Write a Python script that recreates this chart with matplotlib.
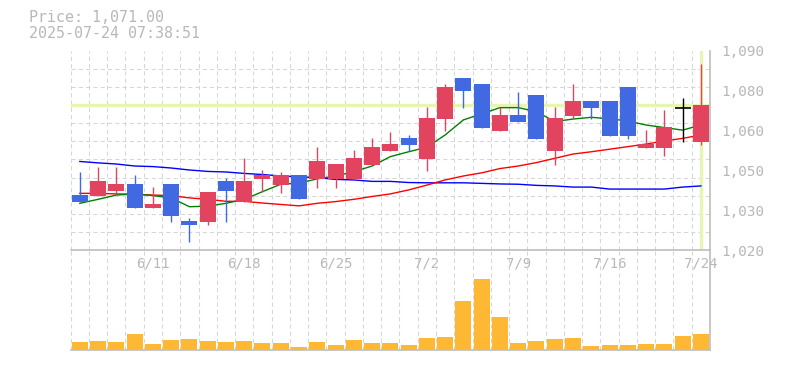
import matplotlib
matplotlib.use("Agg")
import matplotlib.pyplot as plt
import numpy as np

# ---------------- data ----------------
dates = ["6/5", "6/6", "6/9", "6/10", "6/11", "6/12", "6/13", "6/16", "6/17", "6/18",
         "6/19", "6/20", "6/23", "6/24", "6/25", "6/26", "6/27", "6/30", "7/1", "7/2",
         "7/3", "7/4", "7/7", "7/8", "7/9", "7/10", "7/11", "7/14", "7/15", "7/16",
         "7/17", "7/18", "7/22", "7/23", "7/24"]
opens = [1039.3, 1039.1, 1040.8, 1043.2, 1034.9, 1043.2, 1030.2, 1029.9, 1044.2, 1036.9,
         1045.0, 1042.9, 1046.3, 1045.0, 1045.0, 1045.0, 1049.9, 1054.8, 1059.3, 1052.1,
         1066.0, 1080.4, 1078.3, 1061.9, 1067.4, 1074.4, 1054.9, 1067.1, 1072.3, 1072.3,
         1077.3, 1055.9, 1055.9, 1070.0, 1058.0]
highs = [1047.4, 1049.1, 1049.1, 1046.3, 1042.1, 1043.2, 1031.2, 1040.4, 1045.3, 1052.3,
         1048.1, 1047.4, 1046.3, 1056.2, 1050.2, 1055.1, 1059.3, 1061.4, 1060.4, 1070.2,
         1078.3, 1080.4, 1078.3, 1070.2, 1075.5, 1074.4, 1070.2, 1078.3, 1072.3, 1072.3,
         1077.3, 1062.1, 1069.2, 1073.3, 1085.3]
lows = [1036.9, 1039.1, 1040.0, 1034.9, 1034.9, 1029.9, 1022.9, 1028.9, 1029.9, 1036.9,
        1040.4, 1040.0, 1037.9, 1041.9, 1041.9, 1045.0, 1049.9, 1054.8, 1054.8, 1047.9,
        1061.9, 1070.0, 1062.8, 1061.9, 1065.1, 1059.1, 1050.0, 1066.0, 1066.0, 1060.1,
        1059.1, 1055.9, 1053.1, 1058.0, 1056.9]
closes = [1036.9, 1044.2, 1043.2, 1034.9, 1036.2, 1032.0, 1028.9, 1040.4, 1040.8, 1044.2,
          1046.3, 1046.3, 1037.9, 1051.3, 1050.2, 1052.3, 1056.2, 1057.2, 1057.0, 1066.4,
          1077.3, 1075.8, 1062.8, 1067.4, 1065.1, 1059.1, 1066.4, 1072.3, 1070.0, 1060.1,
          1060.1, 1057.2, 1063.2, 1070.0, 1071.0]
ma_short = [1036.4, 1037.8, 1039.3, 1039.7, 1039.1, 1038.3, 1035.2, 1035.4, 1036.4, 1037.8,
            1040.5, 1043.1, 1043.5, 1045.0, 1046.0, 1047.5, 1049.5, 1052.8, 1054.5, 1056.1,
            1060.4, 1065.7, 1067.8, 1070.0, 1070.0, 1068.6, 1065.1, 1066.0, 1066.6, 1066.1,
            1065.3, 1063.9, 1063.0, 1062.1, 1063.9]
ma_mid = [1039.9, 1039.9, 1039.7, 1039.6, 1039.3, 1039.1, 1038.3, 1037.8, 1037.1, 1037.1,
          1036.5, 1036.0, 1035.5, 1036.4, 1037.0, 1037.8, 1038.8, 1039.7, 1041.1, 1042.8,
          1044.6, 1046.0, 1047.1, 1048.6, 1049.5, 1050.7, 1052.2, 1053.7, 1054.5, 1055.4,
          1056.3, 1057.2, 1058.3, 1059.2, 1060.4]
ma_long = [1051.1, 1050.6, 1050.2, 1049.5, 1049.3, 1048.8, 1048.1, 1047.6, 1047.4, 1046.9,
           1046.5, 1046.0, 1045.7, 1045.4, 1044.8, 1044.6, 1044.1, 1044.1, 1043.7, 1043.6,
           1043.6, 1043.6, 1043.4, 1043.2, 1043.1, 1042.7, 1042.5, 1042.1, 1042.1, 1041.4,
           1041.4, 1041.4, 1041.4, 1042.1, 1042.5]
volumes = [8, 9, 8, 16, 6, 10, 11, 9, 8, 9, 7, 7, 3, 8, 5, 10, 7, 7, 5, 12,
           13, 49, 71, 33, 7, 9, 11, 12, 4, 5, 5, 6, 6, 14, 16]
tick_dates = ["6/11", "6/18", "6/25", "7/2", "7/9", "7/16", "7/24"]
price_ticks = [1020, 1034, 1048, 1062, 1076, 1090]
price_tick_labels = ["1,020", "1,030", "1,050", "1,060", "1,080", "1,090"]
last_price = 1071.00
timestamp = "2025-07-24 07:38:51"

# ---------------- style ----------------
UP = "#e2445f"
DOWN = "#4169e1"
VOL = "#ffb833"
HL = "#e6f5b0"
GRID = "#d6d6d6"
SPINE = "#bdbdbd"
TXT = "#b8b8b8"
FONT = "DejaVu Sans Mono"

W, H = 785, 370
fig = plt.figure(figsize=(W / 100, H / 100), dpi=100)

x = np.arange(len(dates))
n = len(dates)
left, right = 70.7 / W, 710 / W
ax = fig.add_axes([left, 1 - 250 / H, right - left, (250 - 50.7) / H])
axv = fig.add_axes([left, 1 - 349.5 / H, right - left, 99.5 / H])
axv.set_facecolor("none")
ax.set_facecolor("none")

for a in (ax, axv):
    a.set_xlim(-0.5, n - 0.5)
    for s in ("top", "left"):
        a.spines[s].set_visible(False)
    a.spines["right"].set_color(SPINE)
    a.spines["bottom"].set_color(SPINE)
    a.spines["right"].set_linewidth(1.2)
    a.spines["bottom"].set_linewidth(1.2)
    a.set_xticks(np.arange(-0.5, n, 1.0), minor=True)
    a.grid(which="minor", axis="x", color=GRID, linestyle=(0, (4, 3)), linewidth=0.75)
    a.tick_params(which="both", length=0)
    a.set_axisbelow(True)

# main price axes
ax.set_ylim(1020, 1090)
ax.set_yticks(np.linspace(1020, 1090, 12), minor=True)
ax.grid(which="minor", axis="y", color=GRID, linestyle=(0, (4, 3)), linewidth=0.75)
ax.yaxis.tick_right()
ax.set_yticks(price_ticks)
ax.set_yticklabels(price_tick_labels, fontfamily=FONT, fontsize=10.3, color=TXT)
ax.tick_params(axis="y", which="major", pad=8)
ax.set_xticks([dates.index(d) for d in tick_dates])
ax.set_xticklabels(tick_dates, fontfamily=FONT, fontsize=10, color=TXT)
ax.tick_params(axis="x", which="major", pad=5)

# highlight lines
ax.axhline(last_price, color=HL, linewidth=2.4, zorder=1)
ax.axvline(x[-1], color=HL, linewidth=2.4, zorder=1)

# moving averages
ax.plot(x, ma_long, color="#0000ff", linewidth=1.0, zorder=2)
ax.plot(x, ma_mid, color="#ff0000", linewidth=1.0, zorder=2)
ax.plot(x, ma_short, color="#008000", linewidth=1.0, zorder=2)

# candles
o = np.array(opens); c = np.array(closes)
cols = [UP if cc > oo else (DOWN if cc < oo else "#000000") for oo, cc in zip(o, c)]
ax.vlines(x, lows, highs, colors=cols, linewidth=1.0, zorder=3)
body_w = 0.875
ax.bar(x, c - o, bottom=o, width=body_w, color=cols, linewidth=0, zorder=4)
for xi, oo, cc, col in zip(x, o, c, cols):
    if oo == cc:
        ax.hlines(oo, xi - body_w / 2, xi + body_w / 2, colors=col, linewidth=1.2, zorder=4)

# volume
axv.bar(x, volumes, width=body_w, color=VOL, linewidth=0, zorder=3)
axv.set_ylim(0, 99.5)
axv.set_yticks([])
axv.set_xticks([])

# header text
fig.text(29 / W, 1 - 18 / H, f"Price: {last_price:,.2f}", fontfamily=FONT, fontsize=10.8,
         color=TXT, ha="left", va="center")
fig.text(29 / W, 1 - 33 / H, timestamp, fontfamily=FONT, fontsize=10.8,
         color=TXT, ha="left", va="center")

fig.savefig("out.png", dpi=100)
